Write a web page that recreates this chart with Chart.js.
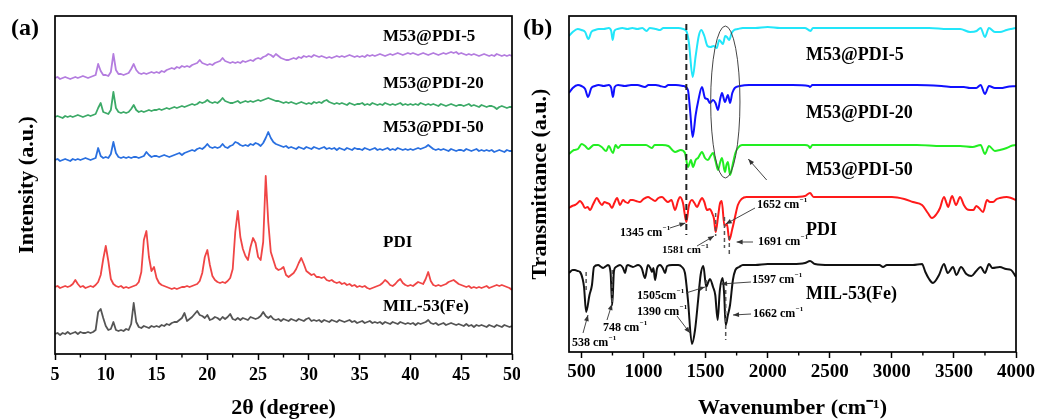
<!DOCTYPE html>
<html>
<head>
<meta charset="utf-8">
<script src="https://cdn.jsdelivr.net/npm/chart.js@4.4.1/dist/chart.umd.min.js"></script>
<style>
  html, body { margin: 0; padding: 0; background: #fff; }
  #wrap { position: relative; width: 1040px; height: 419px; overflow: hidden; }
  canvas { position: absolute; top: 0; }
  #xrd { left: 0; }
  #ftir { left: 520px; }
</style>
</head>
<body>
<div id="wrap">
  <canvas id="xrd" width="520" height="419"></canvas>
  <canvas id="ftir" width="520" height="419"></canvas>
</div>
<script>
// ---------- (a) XRD patterns: 2θ from 5° to 50° in 0.25° steps ----------
const xrdStart = 5;
const xrdStep = 0.25;
const xrdTicks = [5, 10, 15, 20, 25, 30, 35, 40, 45, 50];
const xrdMinorTicks = [7.5, 12.5, 17.5, 22.5, 27.5, 32.5, 37.5, 42.5, 47.5];

const xrdMil53 = [
  0,1,-1,1,0,2,0,1,2,0,2,1,1,2,1,2,4,22,25,16,
  8,4,5,12,4,3,4,3,5,4,10,31,12,7,6,8,7,6,8,7,
  8,7,9,8,10,9,11,12,12,14,16,21,13,15,17,20,23,19,18,16,
  19,14,15,17,16,14,17,15,17,20,15,14,16,14,16,15,14,17,16,15,
  16,18,22,18,16,18,15,14,15,13,15,14,13,15,14,13,15,14,13,15,
  16,13,14,13,14,12,14,13,12,14,13,12,14,13,12,13,14,12,13,11,
  12,13,11,12,13,11,12,11,12,10,12,11,10,12,11,10,12,11,10,11,
  10,11,9,11,10,11,12,14,11,10,11,9,10,11,9,10,11,10,9,10,
  9,8,10,8,9,7,9,8,9,8,7,9,8,7,9,8,7,9,8,7,8
];
const xrdPdi = [
  0,1,-1,0,1,0,1,3,7,3,0,1,-1,0,1,0,2,5,12,28,
  41,26,8,3,1,0,1,-1,0,-1,0,1,2,5,15,47,56,30,16,20,
  9,4,2,1,0,-1,-2,-1,-2,-1,0,0,1,0,1,2,3,6,14,30,
  37,22,11,7,5,4,5,4,6,9,18,55,76,50,38,31,27,40,49,44,
  30,27,45,111,65,35,27,19,17,18,20,12,10,12,14,18,24,29,23,16,
  14,12,13,10,10,9,10,7,6,7,5,4,5,3,4,2,3,1,2,0,
  1,0,1,-1,-2,-1,0,1,2,4,7,5,2,1,3,6,8,4,2,1,
  2,1,3,5,4,3,8,15,6,2,1,2,1,2,3,5,6,7,5,3,
  2,1,0,1,-1,0,-1,0,-1,0,1,-1,0,1,2,1,2,1,0,-1,-3
];
const xrdM53Pdi50 = [
  0,1,-1,0,1,0,-1,1,0,1,0,1,2,1,0,1,2,12,4,2,
  3,2,6,18,7,3,2,3,2,3,2,3,3,2,3,4,8,5,3,4,
  4,3,4,5,4,3,4,5,6,7,5,7,8,9,10,9,11,12,11,13,
  16,13,12,13,12,13,16,13,12,14,15,18,17,15,14,15,14,16,15,17,
  16,14,17,22,28,22,18,16,15,14,13,14,12,13,12,11,13,12,11,13,
  12,11,13,12,11,12,13,11,12,11,12,10,12,11,10,12,11,10,12,11,
  11,10,12,11,10,11,12,10,11,10,11,12,10,11,10,12,11,10,11,10,
  11,10,11,12,11,12,13,15,13,11,10,11,10,11,10,9,11,10,9,10,
  10,9,11,10,9,10,11,9,10,9,10,9,10,8,9,10,9,8,10,9,9
];
const xrdM53Pdi20 = [
  0,1,0,-1,1,0,1,0,1,2,1,0,1,2,1,2,3,9,14,5,
  4,3,7,25,9,5,4,5,4,5,8,12,7,5,6,5,6,7,6,7,
  7,8,7,8,9,8,9,10,9,10,11,10,11,12,13,12,13,15,14,15,
  17,15,14,15,14,16,19,16,15,14,14,15,16,14,15,16,15,16,15,16,
  17,16,17,18,19,18,17,16,16,15,14,15,14,15,14,13,14,15,14,13,
  14,13,15,14,15,14,16,17,15,14,13,14,13,14,13,12,14,13,12,13,
  13,14,12,13,12,14,13,12,13,12,14,13,12,13,12,13,14,12,13,12,
  13,12,13,12,14,13,12,13,12,13,12,11,13,12,11,12,13,12,11,12,
  12,11,12,13,11,12,11,10,12,11,10,11,11,10,8,10,11,10,9,10,10
];
const xrdM53Pdi5 = [
  0,1,-1,0,1,0,-1,0,1,0,1,2,1,0,1,2,3,14,7,3,
  3,2,6,24,8,4,4,3,4,5,9,14,8,5,4,5,4,5,6,5,
  6,5,7,6,8,9,10,9,11,10,12,11,12,11,13,14,15,18,15,14,
  13,14,13,15,16,17,20,17,16,15,16,15,16,15,17,16,17,18,17,19,
  20,19,21,22,24,23,21,24,22,20,19,18,18,19,20,19,21,20,22,21,
  22,21,23,22,21,22,21,20,21,20,21,22,21,22,21,22,23,22,21,22,
  21,22,21,23,22,23,22,23,24,23,22,23,24,23,24,25,24,23,24,25,
  24,25,24,23,24,25,24,23,24,25,24,23,24,25,24,25,26,25,26,24,
  25,24,23,24,23,24,23,22,23,24,23,22,23,22,24,23,22,23,22,23,22
];
// vertical stacking offsets of the patterns (a.u.)
const xrdOffsets = [20, 67, 194, 237, 276];
const xrdNames = ['MIL-53(Fe)', 'PDI', 'M53@PDI-50', 'M53@PDI-20', 'M53@PDI-5'];
const xrdColors = ['#555555', '#f04545', '#2a70e0', '#3daa68', '#b47ddf'];
const xrdValues = [xrdMil53, xrdPdi, xrdM53Pdi50, xrdM53Pdi20, xrdM53Pdi5];

// ---------- (b) FTIR spectra: [wavenumber (cm-1), transmittance relative to baseline] ----------
const ftirTicks = [500, 1000, 1500, 2000, 2500, 3000, 3500, 4000];
const ftirMinorTicks = [750, 1250, 1750, 2250, 2750, 3250, 3750];

const ftirMil53 = [[400,-8],[430,-5],[448,-5],[470,-6],[489,-7],[510,-14],[521,-22],[538,-47],[565,-30],[585,-20],[601,-2],[634,0],[660,-2],[674,-3],[700,-1],[714,0],[735,-8],[748,-40],[762,-6],[778,-2],[811,0],[835,-3],[851,-8],[865,-1],[875,0],[895,-1],[915,-2],[956,0],[985,-3],[1012,-13],[1036,0],[1055,-3],[1068,-7],[1080,-3],[1093,-15],[1110,-3],[1133,0],[1155,-3],[1173,-8],[1190,-1],[1230,0],[1280,0],[1310,-2],[1334,-8],[1358,-35],[1390,-79],[1415,-65],[1440,-35],[1460,-10],[1482,-1],[1505,-22],[1522,-17],[1535,-14],[1560,-22],[1578,-30],[1597,-55],[1615,-25],[1638,-13],[1650,-30],[1662,-60],[1680,-50],[1697,-40],[1720,-15],[1740,-5],[1770,-2],[1800,0],[1900,0],[2000,1],[2200,1],[2300,2],[2341,4],[2380,1],[2500,0],[2700,0],[2900,0],[2929,-2],[2960,0],[3100,0],[3170,0],[3243,1],[3270,-7],[3300,-14],[3331,-18],[3380,-10],[3420,1],[3450,-8],[3493,-2],[3520,-10],[3557,-2],[3600,-9],[3640,-11],[3680,-6],[3715,-2],[3750,-8],[3782,1],[3810,-3],[3870,-2],[3920,-4],[3960,-5],[4000,-12]];
const ftirPdi = [[400,-11],[425,-9],[448,-8],[470,-6],[489,-4],[510,-7],[529,-11],[550,-10],[569,-13],[595,-7],[625,-1],[645,-5],[666,-8],[685,-5],[706,-6],[725,-7],[746,-11],[765,-6],[787,-1],[811,-8],[835,-3],[855,-5],[875,-6],[895,-3],[915,-3],[940,-4],[972,-5],[1000,-2],[1036,0],[1065,-2],[1093,-4],[1120,-1],[1149,0],[1175,-3],[1197,-5],[1225,-3],[1254,-13],[1280,-3],[1294,0],[1318,-6],[1345,-25],[1365,-9],[1390,-3],[1410,-6],[1431,-10],[1455,-4],[1471,-1],[1490,-5],[1511,-13],[1535,-12],[1552,-16],[1568,-22],[1581,-35],[1600,-20],[1615,-7],[1630,-4],[1652,-29],[1672,-27],[1691,-43],[1715,-32],[1737,-20],[1760,-8],[1790,-2],[1830,0],[2000,0],[2200,0],[2300,1],[2341,4],[2370,0],[2500,0],[2800,0],[3000,0],[3100,-2],[3170,-5],[3243,-8],[3290,-16],[3323,-21],[3360,-17],[3388,-11],[3420,0],[3440,-6],[3453,-10],[3485,1],[3517,-8],[3549,0],[3580,-8],[3603,-12],[3630,-13],[3657,-13],[3680,-9],[3702,-11],[3735,-15],[3766,-3],[3790,-5],[3815,-5],[3845,-2],[3870,-1],[3925,0],[3960,-1],[4000,-3]];
const ftirM53Pdi50 = [[400,-9],[440,-5],[472,-4],[502,1],[530,-1],[556,-4],[600,0],[634,0],[663,-2],[700,-6],[720,-1],[754,-8],[775,0],[795,-3],[820,0],[900,0],[960,0],[1020,0],[1068,-3],[1090,0],[1150,0],[1200,-1],[1254,-7],[1300,-5],[1334,-8],[1358,-22],[1382,-15],[1399,-22],[1420,-15],[1439,-13],[1471,-7],[1495,-13],[1519,-15],[1540,-11],[1560,-8],[1580,-16],[1600,-25],[1616,-18],[1632,-13],[1656,-27],[1668,-20],[1680,-17],[1697,-30],[1721,-18],[1740,-8],[1760,-3],[1793,0],[1900,0],[2100,0],[2300,0],[2330,-1],[2341,-3],[2360,0],[2600,0],[2800,0],[3000,0],[3200,0],[3400,-1],[3550,-1],[3650,-2],[3715,0],[3750,-9],[3782,-1],[3830,-6],[3870,-5],[3925,-3],[3960,-1],[4000,0]];
const ftirM53Pdi20 = [[400,-8],[430,-3],[472,0],[500,-1],[530,-4],[553,-12],[580,-3],[609,-1],[640,0],[680,-1],[720,0],[740,-3],[754,-12],[768,-2],[795,0],[850,-1],[900,0],[950,0],[1012,-2],[1040,0],[1100,0],[1133,-1],[1173,-2],[1200,0],[1260,0],[1320,-1],[1358,-5],[1375,-25],[1396,-52],[1420,-30],[1439,-17],[1471,-2],[1495,-13],[1515,-14],[1535,-18],[1560,-15],[1580,-18],[1600,-25],[1616,-15],[1632,-8],[1656,-17],[1680,-10],[1697,-18],[1715,-8],[1735,-3],[1777,-1],[1850,0],[2000,0],[2200,0],[2330,-1],[2341,-2],[2360,0],[2600,0],[2800,0],[3000,0],[3200,0],[3400,-1],[3500,-2],[3580,-2],[3629,-3],[3680,-3],[3715,0],[3750,-9],[3782,-1],[3830,-3],[3880,-3],[3925,-2],[4000,-1]];
const ftirM53Pdi5 = [[400,-8],[430,-4],[470,-1],[500,-2],[530,-4],[556,-11],[580,-4],[610,-2],[640,-1],[680,-1],[720,0],[740,-3],[752,-12],[765,-3],[790,-1],[830,0],[870,-1],[910,0],[950,-1],[990,0],[1025,-3],[1050,0],[1100,-1],[1133,-2],[1160,0],[1220,0],[1280,0],[1320,-1],[1345,-3],[1365,-14],[1396,-49],[1420,-28],[1445,-8],[1465,-2],[1490,-8],[1515,-18],[1540,-19],[1565,-18],[1590,-20],[1610,-12],[1625,-14],[1640,-16],[1658,-8],[1672,-9],[1690,-12],[1710,-5],[1730,-2],[1760,-1],[1800,0],[1900,0],[2000,1],[2100,0],[2200,0],[2300,0],[2330,-2],[2345,-3],[2365,0],[2500,0],[2700,0],[2900,0],[3100,0],[3300,0],[3450,-1],[3550,-1],[3630,-4],[3683,-3],[3715,0],[3750,-9],[3782,0],[3830,-4],[3871,-4],[3925,-2],[3960,-1],[4000,0]];
const ftirOffsets = [87, 155, 207, 267, 324];
const ftirNames = ['MIL-53(Fe)', 'PDI', 'M53@PDI-50', 'M53@PDI-20', 'M53@PDI-5'];
const ftirColors = ['#111111', '#ff1a1a', '#22ee22', '#1010ff', '#22e6fa'];
const ftirValues = [ftirMil53, ftirPdi, ftirM53Pdi50, ftirM53Pdi20, ftirM53Pdi5];

// ---------- text and annotation placement (data coordinates) ----------
const SERIF = '"Liberation Serif", "Times New Roman", serif';
const xrdLabelPos = [[37.3, 47], [37.3, 111], [37.3, 226], [37.3, 270], [37.3, 317]];
const ftirLabelPos = [[2308, 58], [2308, 122], [2308, 182], [2308, 239], [2308, 297]];

// peak call-outs: label start, arrow tail, arrow head
const ftirCallouts = [
  { num: '1345', gap: true, size: 12, at: [811, 119], from: [1213, 124], to: [1338, 129] },
  { num: '1581', gap: true, size: 11, at: [1149, 102], from: [1431, 106], to: [1568, 116] },
  { num: '1652', gap: true, size: 12, at: [1914, 147], from: [1898, 144], to: [1662, 128] },
  { num: '1691', gap: true, size: 12, at: [1922, 110], from: [1882, 110], to: [1750, 110] },
  { num: '1597', gap: true, size: 12, at: [1874, 72], from: [1866, 70], to: [1625, 68] },
  { num: '1505', gap: false, size: 12, at: [948, 56], from: [1342, 59], to: [1495, 65] },
  { num: '1390', gap: true, size: 12, at: [948, 40], from: [1270, 36], to: [1374, 19] },
  { num: '1662', gap: true, size: 12, at: [1882, 38], from: [1866, 38], to: [1721, 37] },
  { num: '748', gap: true, size: 12, at: [674, 24], from: [706, 32], to: [746, 48] },
  { num: '538', gap: true, size: 12, at: [424, 9], from: [513, 19], to: [553, 37] }
];
// short dashed guides marking band positions: [wavenumber, top, bottom]
const ftirGuides = [[1581, 139, 116], [1652, 135, 104], [1691, 116, 97], [538, 80, 62], [748, 82, 47], [1662, 62, 12], [1505, 72, 58]];
const ftirLongGuide = [1345, 328, 117];
const ftirEllipse = { center: [1659, 250], halfWn: 118, halfT: 76 };
const ftirPointer = { from: [1992, 172], to: [1844, 193] };

// ---------- drawing helpers ----------
function arrow(ctx, x1, y1, x2, y2) {
  ctx.beginPath(); ctx.moveTo(x1, y1); ctx.lineTo(x2, y2); ctx.stroke();
  const ang = Math.atan2(y2 - y1, x2 - x1), L = 6, W = 2.4;
  ctx.beginPath();
  ctx.moveTo(x2, y2);
  ctx.lineTo(x2 - L * Math.cos(ang) + W * Math.sin(ang), y2 - L * Math.sin(ang) - W * Math.cos(ang));
  ctx.lineTo(x2 - L * Math.cos(ang) - W * Math.sin(ang), y2 - L * Math.sin(ang) + W * Math.cos(ang));
  ctx.closePath(); ctx.fill();
}
function cmText(ctx, num, gap, x, y, size) {
  ctx.font = `bold ${size}px ${SERIF}`;
  ctx.textAlign = 'left'; ctx.textBaseline = 'middle';
  const main = num + (gap ? ' cm' : 'cm');
  ctx.fillText(main, x, y);
  const w = ctx.measureText(main).width;
  ctx.font = `bold ${Math.round(size * 0.62)}px ${SERIF}`;
  ctx.fillText('\u22121', x + w + 0.5, y - size * 0.38);
}

const panelDecor = {
  id: 'panelDecor',
  afterDatasetsDraw(chart, args, o) {
    const { ctx, chartArea: a, scales: { x, y } } = chart;
    ctx.save();
    // frame
    ctx.strokeStyle = '#000'; ctx.lineWidth = 1.7; ctx.setLineDash([]);
    ctx.strokeRect(a.left, a.top, a.right - a.left, a.bottom - a.top);
    // minor ticks
    ctx.lineWidth = 1.4;
    for (const v of o.minor) {
      const p = x.getPixelForValue(v);
      ctx.beginPath(); ctx.moveTo(p, a.bottom); ctx.lineTo(p, a.bottom + 3.5); ctx.stroke();
    }
    ctx.fillStyle = '#000';
    // panel letter
    ctx.font = `bold 24px ${SERIF}`; ctx.textAlign = 'left'; ctx.textBaseline = 'middle';
    ctx.fillText(o.letter, o.letterX, 29);
    // y title
    ctx.save();
    ctx.translate(o.yTitleX, (a.top + a.bottom) / 2);
    ctx.rotate(-Math.PI / 2);
    ctx.font = `bold 22px ${SERIF}`; ctx.textAlign = 'center'; ctx.textBaseline = 'middle';
    ctx.fillText(o.yTitle, 0, 0);
    ctx.restore();
    // series names
    ctx.font = `bold ${o.labelSize}px ${SERIF}`; ctx.textAlign = 'left'; ctx.textBaseline = 'middle';
    o.names.forEach((n, i) => {
      ctx.fillText(n, x.getPixelForValue(o.labelPos[i][0]), y.getPixelForValue(o.labelPos[i][1]));
    });
    ctx.restore();
  }
};

const ftirNotes = {
  id: 'ftirNotes',
  afterDatasetsDraw(chart) {
    const { ctx, scales: { x, y } } = chart;
    const X = v => x.getPixelForValue(v), Y = v => y.getPixelForValue(v);
    ctx.save();
    // long dashed guide at 1345 cm-1
    ctx.strokeStyle = '#222'; ctx.lineWidth = 2; ctx.setLineDash([6, 4]);
    ctx.beginPath(); ctx.moveTo(X(ftirLongGuide[0]), Y(ftirLongGuide[1])); ctx.lineTo(X(ftirLongGuide[0]), Y(ftirLongGuide[2])); ctx.stroke();
    // short guides
    ctx.strokeStyle = '#555'; ctx.lineWidth = 1.5; ctx.setLineDash([4, 3]);
    for (const [w, t, b] of ftirGuides) {
      ctx.beginPath(); ctx.moveTo(X(w), Y(t)); ctx.lineTo(X(w), Y(b)); ctx.stroke();
    }
    ctx.setLineDash([]);
    // ellipse around the 1500-1700 cm-1 bands
    const cx = X(ftirEllipse.center[0]), cy = Y(ftirEllipse.center[1]);
    const rx = Math.abs(X(ftirEllipse.center[0] + ftirEllipse.halfWn) - cx);
    const ry = Math.abs(Y(ftirEllipse.center[1] + ftirEllipse.halfT) - cy);
    ctx.strokeStyle = '#444'; ctx.lineWidth = 1;
    ctx.beginPath(); ctx.ellipse(cx, cy, rx, ry, 0, 0, Math.PI * 2); ctx.stroke();
    ctx.fillStyle = '#333';
    arrow(ctx, X(ftirPointer.from[0]), Y(ftirPointer.from[1]), X(ftirPointer.to[0]), Y(ftirPointer.to[1]));
    // peak call-outs
    ctx.strokeStyle = '#333'; ctx.lineWidth = 0.9;
    for (const c of ftirCallouts) {
      ctx.fillStyle = '#333';
      arrow(ctx, X(c.from[0]), Y(c.from[1]), X(c.to[0]), Y(c.to[1]));
      ctx.fillStyle = '#000';
      cmText(ctx, c.num, c.gap, X(c.at[0]), Y(c.at[1]), c.size);
    }
    ctx.restore();
  }
};

function axisX(min, max, ticks, title, height, labelPad, tickSize) {
  return {
    type: 'linear', min, max,
    afterBuildTicks: s => { s.ticks = ticks.map(v => ({ value: v })); },
    afterFit: s => { s.height = height; s.paddingLeft = 0; s.paddingRight = 0; },
    grid: { drawOnChartArea: false, drawTicks: true, tickLength: 6, tickColor: '#000', tickWidth: 1.5 },
    border: { display: false },
    ticks: { font: { family: SERIF, size: tickSize, weight: 'bold' }, color: '#000', padding: labelPad, maxRotation: 0, autoSkip: false,
             callback: v => String(v) },
    title: { display: true, text: title, color: '#000', padding: 0, font: { family: SERIF, size: 22, weight: 'bold', lineHeight: 1 } }
  };
}

// ---------- (a) XRD chart ----------
new Chart(document.getElementById('xrd'), {
  type: 'line',
  data: {
    datasets: xrdValues.map((vals, i) => ({
      label: xrdNames[i],
      data: vals.map((v, k) => ({ x: xrdStart + k * xrdStep, y: v + xrdOffsets[i] })),
      borderColor: xrdColors[i], borderWidth: 1.8, pointRadius: 0, tension: 0, borderJoinStyle: 'round'
    }))
  },
  options: {
    responsive: false, animation: false, devicePixelRatio: 1,
    layout: { padding: { left: 55, top: 16, right: 8, bottom: 0 } },
    plugins: {
      legend: { display: false }, tooltip: { enabled: false },
      panelDecor: { minor: xrdMinorTicks, letter: '(a)', letterX: 11, yTitle: 'Intensity (a.u.)', yTitleX: 27, names: xrdNames, labelPos: xrdLabelPos, labelSize: 17 }
    },
    scales: {
      x: axisX(5, 50, xrdTicks, '2\u03B8 (degree)', 65, 5, 18),
      y: { display: false, min: 0, max: 338 }
    }
  },
  plugins: [panelDecor]
});

// ---------- (b) FTIR chart ----------
new Chart(document.getElementById('ftir'), {
  type: 'line',
  data: {
    datasets: ftirValues.map((pts, i) => ({
      label: ftirNames[i],
      data: pts.map(([w, t]) => ({ x: w, y: t + ftirOffsets[i] })),
      borderColor: ftirColors[i], borderWidth: 2, pointRadius: 0, cubicInterpolationMode: 'monotone', borderJoinStyle: 'round'
    }))
  },
  options: {
    responsive: false, animation: false, devicePixelRatio: 1,
    layout: { padding: { left: 49, top: 16, right: 24, bottom: 0 } },
    plugins: {
      legend: { display: false }, tooltip: { enabled: false },
      panelDecor: { minor: ftirMinorTicks, letter: '(b)', letterX: 3, yTitle: 'Transmittance (a.u.)', yTitleX: 20, names: ftirNames, labelPos: ftirLabelPos, labelSize: 18 }
    },
    scales: {
      x: axisX(400, 4000, ftirTicks, 'Wavenumber (cm\u207B\u00B9)', 67, 3, 19),
      y: { display: false, min: 0, max: 336 }
    }
  },
  plugins: [panelDecor, ftirNotes]
});
</script>
</body>
</html>
